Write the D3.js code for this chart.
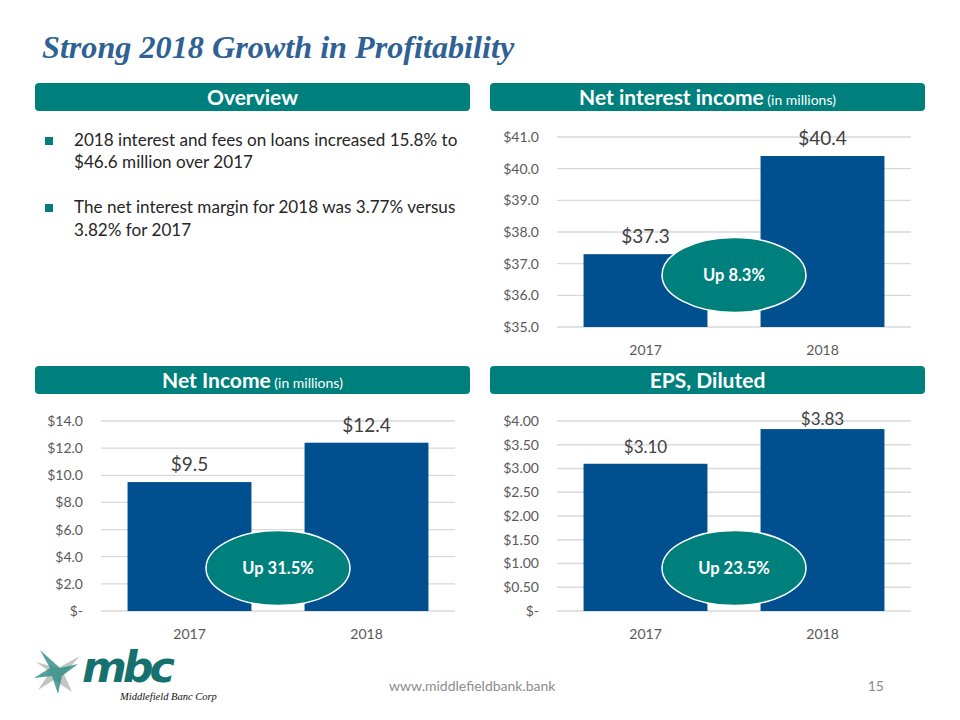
<!DOCTYPE html>
<html><head><meta charset="utf-8">
<script src="https://cdn.jsdelivr.net/npm/d3@7"></script>
<style>
html,body{margin:0;padding:0;background:#fff;}
svg{display:block;}
</style></head>
<body>
<svg id="chart" width="960" height="720"></svg>
<script>
// ---------- data ----------
const categories = ["2017", "2018"];
const niiValues = [37.3, 40.4];
const netIncomeValues = [9.5, 12.4];
const epsValues = [3.10, 3.83];
const niiLabels = ["$37.3", "$40.4"];
const netIncomeLabels = ["$9.5", "$12.4"];
const epsLabels = ["$3.10", "$3.83"];
const niiTicks = [35, 36, 37, 38, 39, 40, 41];
const netIncomeTicks = [0, 2, 4, 6, 8, 10, 12, 14];
const epsTicks = [0, 0.5, 1, 1.5, 2, 2.5, 3, 3.5, 4];
const growthLabels = ["Up 8.3%", "Up 31.5%", "Up 23.5%"];
const bullets = [
  ["2018 interest and fees on loans increased 15.8% to", "$46.6 million over 2017"],
  ["The net interest margin for 2018 was 3.77% versus", "3.82% for 2017"]
];

// ---------- style ----------
const TEAL = "#00807d";
const BAR = "#00508f";
const GRID = "#d9d9d9";
const AXIS_TXT = "#595959";
const FONT = "Lato, 'Open Sans', sans-serif";

const svg = d3.select("#chart");

// Title
svg.append("text").attr("x", 42).attr("y", 58)
  .attr("font-family", "'Liberation Serif', 'Times New Roman', serif")
  .attr("font-style", "italic").attr("font-weight", "bold")
  .attr("font-size", 32.2).attr("fill", "#2e6194")
  .text("Strong 2018 Growth in Profitability");

// Header bars
function header(x, y, w, main, sub) {
  svg.append("rect").attr("x", x).attr("y", y).attr("width", w).attr("height", 28)
    .attr("rx", 4).attr("fill", TEAL);
  const t = svg.append("text").attr("x", x + w / 2).attr("y", y + 21.5)
    .attr("text-anchor", "middle").attr("font-family", FONT).attr("fill", "#fff");
  t.append("tspan").attr("font-weight", "bold").attr("font-size", 21).text(main);
  if (sub) t.append("tspan").attr("font-size", 14).text(" " + sub);
}
header(35, 83, 435, "Overview");
header(490, 83, 435, "Net interest income", "(in millions)");
header(35, 366, 435, "Net Income", "(in millions)");
header(490, 366, 435, "EPS, Diluted");

// Bullets
const lineBase = [146, 168, 213, 236];
bullets.forEach((b, i) => {
  svg.append("rect").attr("x", 45).attr("y", lineBase[i * 2] - 9).attr("width", 8).attr("height", 8).attr("fill", TEAL);
  b.forEach((ln, j) => {
    svg.append("text").attr("x", 74).attr("y", lineBase[i * 2 + j])
      .attr("font-family", FONT).attr("font-size", 17.1).attr("fill", "#262626").text(ln);
  });
});

// Charts
function barChart(cfg) {
  const x = d3.scaleBand().domain(categories).range([cfg.x0, cfg.x1])
    .paddingInner(0.3).paddingOuter(0.15);
  const y = d3.scaleLinear().domain(cfg.domain).range([cfg.yBot, cfg.yTop]);
  const g = svg.append("g");

  // gridlines
  g.append("g").selectAll("line").data(cfg.ticks).join("line")
    .attr("x1", cfg.x0).attr("x2", cfg.x1)
    .attr("y1", d => y(d)).attr("y2", d => y(d))
    .attr("stroke", GRID).attr("stroke-width", 1.3);

  // y axis labels
  const ax = g.append("g").attr("transform", `translate(${cfg.x0 - 18},0)`)
    .call(d3.axisLeft(y).tickValues(cfg.ticks).tickFormat(cfg.fmt).tickSize(0).tickPadding(0));
  ax.select(".domain").remove();
  ax.selectAll("text").attr("font-family", FONT).attr("font-size", 14).attr("fill", AXIS_TXT);

  // x axis labels
  const xa = g.append("g").attr("transform", `translate(0,${cfg.yBot})`)
    .call(d3.axisBottom(x).tickSize(0).tickPadding(18));
  xa.select(".domain").remove();
  xa.selectAll("text").attr("font-family", FONT).attr("font-size", 14).attr("fill", AXIS_TXT);

  // bars
  g.append("g").selectAll("rect").data(cfg.values).join("rect")
    .attr("x", (d, i) => x(categories[i]))
    .attr("width", x.bandwidth())
    .attr("y", d => y(d))
    .attr("height", d => y(cfg.domain[0]) - y(d))
    .attr("fill", BAR);

  // value labels
  g.append("g").selectAll("text").data(cfg.values).join("text")
    .attr("x", (d, i) => x(categories[i]) + x.bandwidth() / 2)
    .attr("y", d => Math.max(y(d) - 11, cfg.yTop + 4))
    .attr("text-anchor", "middle").attr("font-family", FONT)
    .attr("font-size", cfg.labelSize).attr("fill", "#404040")
    .text((d, i) => cfg.labels[i]);

  // growth ellipse
  const cx = (x(categories[0]) + x(categories[1]) + x.bandwidth()) / 2;
  const cy = cfg.yBot - cfg.ellFrac * (cfg.yBot - cfg.yTop);
  g.append("ellipse").attr("cx", cx).attr("cy", cy).attr("rx", 72).attr("ry", 37.5)
    .attr("fill", TEAL).attr("stroke", "#fff").attr("stroke-width", 1.5);
  g.append("text").attr("x", cx).attr("y", cy + 6).attr("text-anchor", "middle")
    .attr("font-family", FONT).attr("font-weight", "bold").attr("font-size", 16.5)
    .attr("fill", "#fff").text(cfg.growth);
}

barChart({x0: 557, x1: 911, yTop: 137, yBot: 327, domain: [35, 41], ticks: niiTicks,
  fmt: d => "$" + d3.format(".1f")(d), values: niiValues, labels: niiLabels,
  labelSize: 19, ellFrac: 0.274, growth: growthLabels[0]});

barChart({x0: 101, x1: 455, yTop: 421, yBot: 611, domain: [0, 14], ticks: netIncomeTicks,
  fmt: d => d === 0 ? "$-" : "$" + d3.format(".1f")(d), values: netIncomeValues, labels: netIncomeLabels,
  labelSize: 19, ellFrac: 0.226, growth: growthLabels[1]});

barChart({x0: 557, x1: 911, yTop: 421, yBot: 611, domain: [0, 4], ticks: epsTicks,
  fmt: d => d === 0 ? "$-" : "$" + d3.format(".2f")(d), values: epsValues, labels: epsLabels,
  labelSize: 17, ellFrac: 0.226, growth: growthLabels[2]});

// Footer
svg.append("text").attr("x", 389).attr("y", 691).attr("font-family", FONT)
  .attr("font-size", 14).attr("fill", "#8c8c8c").text("www.middlefieldbank.bank");
svg.append("text").attr("x", 884).attr("y", 691).attr("text-anchor", "end").attr("font-family", FONT)
  .attr("font-size", 14).attr("fill", "#8c8c8c").text("15");

// Logo
const logo = svg.append("g");
logo.append("path").attr("d", "M36,662 L58,668 L80,656 L64,674 L72,692 L54,680 L38,690 L50,672 Z")
  .attr("fill", "#b5bdb5").attr("opacity", 0.85);
logo.append("path").attr("d", "M40,650 L60,668 L78,664 L62,676 L58,694 L52,676 L34,678 L50,668 Z")
  .attr("fill", "#2a8a86").attr("opacity", 0.8);
logo.append("text").attr("x", 82).attr("y", 682)
  .attr("font-family", "'DejaVu Sans', sans-serif").attr("font-weight", "bold").attr("font-style", "italic")
  .attr("font-size", 43).attr("letter-spacing", -4).attr("fill", "#16706d").text("mbc");
logo.append("text").attr("x", 120).attr("y", 700)
  .attr("font-family", "'Liberation Serif', serif").attr("font-style", "italic")
  .attr("font-size", 10.5).attr("fill", "#111").text("Middlefield Banc Corp");
</script>
</body></html>
